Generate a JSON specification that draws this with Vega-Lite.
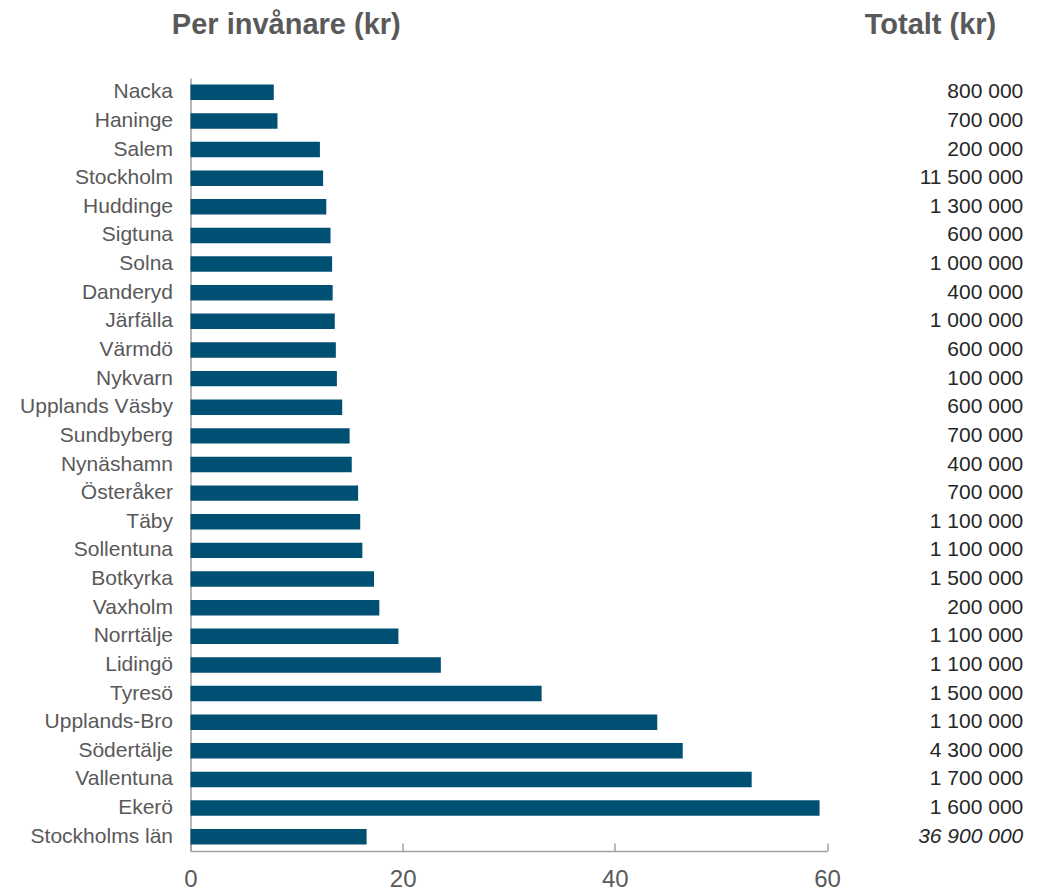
{
  "$schema": "https://vega.github.io/schema/vega-lite/v6.json",
  "width": 636.5,
  "height": 773,
  "autosize": "none",
  "padding": {"left": 190.5, "top": 78, "right": 212, "bottom": 42},
  "config": {"font": "Liberation Sans", "view": {"stroke": null}},
  "data": {
    "values": [
      {"name": "Nacka", "per": 7.85, "total": "800 000"},
      {"name": "Haninge", "per": 8.2, "total": "700 000"},
      {"name": "Salem", "per": 12.2, "total": "200 000"},
      {"name": "Stockholm", "per": 12.5, "total": "11 500 000"},
      {"name": "Huddinge", "per": 12.8, "total": "1 300 000"},
      {"name": "Sigtuna", "per": 13.2, "total": "600 000"},
      {"name": "Solna", "per": 13.35, "total": "1 000 000"},
      {"name": "Danderyd", "per": 13.4, "total": "400 000"},
      {"name": "Järfälla", "per": 13.6, "total": "1 000 000"},
      {"name": "Värmdö", "per": 13.7, "total": "600 000"},
      {"name": "Nykvarn", "per": 13.8, "total": "100 000"},
      {"name": "Upplands Väsby", "per": 14.3, "total": "600 000"},
      {"name": "Sundbyberg", "per": 15.0, "total": "700 000"},
      {"name": "Nynäshamn", "per": 15.2, "total": "400 000"},
      {"name": "Österåker", "per": 15.8, "total": "700 000"},
      {"name": "Täby", "per": 16.0, "total": "1 100 000"},
      {"name": "Sollentuna", "per": 16.2, "total": "1 100 000"},
      {"name": "Botkyrka", "per": 17.3, "total": "1 500 000"},
      {"name": "Vaxholm", "per": 17.8, "total": "200 000"},
      {"name": "Norrtälje", "per": 19.6, "total": "1 100 000"},
      {"name": "Lidingö", "per": 23.6, "total": "1 100 000"},
      {"name": "Tyresö", "per": 33.1, "total": "1 500 000"},
      {"name": "Upplands-Bro", "per": 44.0, "total": "1 100 000"},
      {"name": "Södertälje", "per": 46.4, "total": "4 300 000"},
      {"name": "Vallentuna", "per": 52.9, "total": "1 700 000"},
      {"name": "Ekerö", "per": 59.3, "total": "1 600 000"},
      {"name": "Stockholms län", "per": 16.6, "total": "36 900 000"}
    ]
  },
  "layer": [
    {
      "mark": {"type": "bar", "color": "#005073"},
      "encoding": {
        "y": {
          "field": "name",
          "type": "nominal",
          "sort": null,
          "scale": {"paddingInner": 0.46, "paddingOuter": 0.23},
          "axis": {
            "title": "Per invånare (kr)",
            "titleAngle": 0,
            "titleX": 95.3,
            "titleY": -44.7,
            "titleAlign": "center",
            "titleBaseline": "alphabetic",
            "titleFontSize": 29,
            "titleFontWeight": "bold",
            "titleColor": "#595959",
            "ticks": false,
            "labelFontSize": 21,
            "labelColor": "#595959",
            "labelPadding": 18,
            "domainColor": "#a0a0a0",
            "domainWidth": 1.5
          }
        },
        "x": {
          "field": "per",
          "type": "quantitative",
          "scale": {"domain": [0, 60], "nice": false},
          "axis": {
            "title": null,
            "values": [0, 20, 40, 60],
            "grid": false,
            "tickSize": -8,
            "tickColor": "#a0a0a0",
            "tickWidth": 1.5,
            "domainColor": "#a0a0a0",
            "domainWidth": 1.5,
            "labelFlush": false,
            "labelFontSize": 24,
            "labelColor": "#595959",
            "labelPadding": 24
          }
        }
      }
    },
    {
      "transform": [{"filter": "datum.name !== 'Stockholms län'"}],
      "mark": {"type": "text", "align": "right", "baseline": "middle", "fontSize": 21, "color": "#262626"},
      "encoding": {
        "y": {"field": "name", "type": "nominal", "sort": null, "axis": null},
        "x": {
          "datum": 78.5,
          "type": "quantitative",
          "axis": {
            "orient": "top",
            "title": "Totalt (kr)",
            "titleX": 739.5,
            "titleY": -44.7,
            "titleAlign": "center",
            "titleBaseline": "alphabetic",
            "titleFontSize": 29,
            "titleFontWeight": "bold",
            "titleColor": "#595959",
            "labels": false,
            "ticks": false,
            "domain": false,
            "grid": false
          }
        },
        "text": {"field": "total"}
      }
    },
    {
      "transform": [{"filter": "datum.name === 'Stockholms län'"}],
      "mark": {"type": "text", "align": "right", "baseline": "middle", "fontSize": 21, "fontStyle": "italic", "color": "#262626"},
      "encoding": {
        "y": {"field": "name", "type": "nominal", "sort": null, "axis": null},
        "x": {"datum": 78.5, "type": "quantitative", "axis": null},
        "text": {"field": "total"}
      }
    }
  ],
  "resolve": {"axis": {"x": "independent", "y": "independent"}}
}
